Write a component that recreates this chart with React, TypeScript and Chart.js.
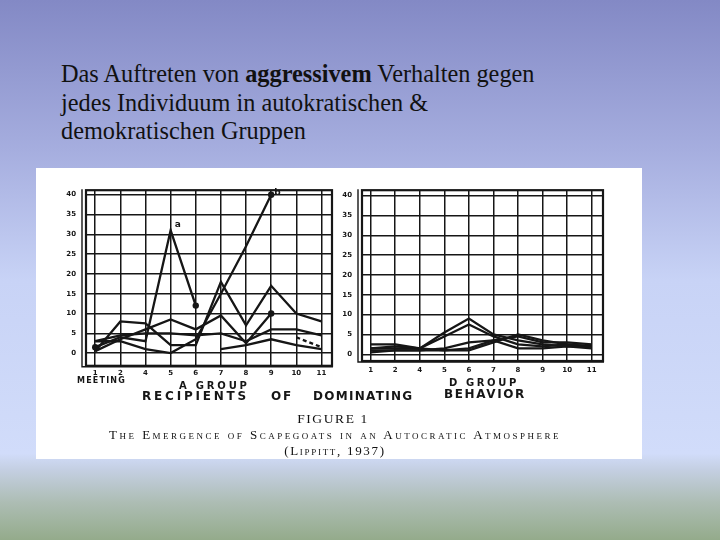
import React, { useEffect, useRef } from "react";
import { Chart, registerables } from "chart.js";

Chart.register(...registerables);

// ---------- data ----------
const meetings = ["1", "2", "4", "5", "6", "7", "8", "9", "10", "11"];
const yTicks = [0, 5, 10, 15, 20, 25, 30, 35, 40];

// A group (autocratic)
const aSeriesA = [1.5, 4, 3, 31, 12, null, null, null, null, null];
const aSeriesB = [0.5, 8, 7.5, 2, 2, 18, 7, 17, 10, 8];
const aSeriesC = [3, 3, 1, 0, 3.5, 15, 27, 40, null, null];
const aSeriesD = [0.5, 3.5, 6, 8.5, 6, 9.5, 2.5, 10, null, null];
const aSeriesE = [3, 4.5, 5, 5, 4.5, 5, 3, null, null, null];
const aSeriesF = [null, null, null, null, null, 1, 2, 3.5, 2, 1];
const aSeriesG = [null, null, null, null, null, null, 3, 6, 6, 4.5];
const aSeriesH = [null, null, null, null, null, null, null, null, 4, 1.5];

// D group (democratic)
const dSeriesA = [2.5, 2.5, 1.5, 5.5, 9, 5, 3.5, 2.5, 2, 2];
const dSeriesB = [1.5, 2, 1.5, 4.5, 7.5, 4.5, 2.5, 2, 2.5, 2];
const dSeriesC = [1, 1, 1, 1.5, 3, 3.5, 1.5, 1.5, 2, 1.5];
const dSeriesD = [0.5, 1, 1, 1, 1, 3, 5, 3.5, 2.5, 2];
const dSeriesE = [1.5, 1.5, 1.5, 1, 1.5, 3.5, 4.5, 3, 3, 2.5];

const INK = "#161616";
const tickFont = { family: "DejaVu Sans", size: 7, weight: "bold" as const };

function toPoints(vals: (number | null)[]) {
  return vals.map((v, i) => ({ x: i, y: v }));
}

function ds(vals: (number | null)[], dots: number[] = [], dashed = false) {
  return {
    data: toPoints(vals),
    borderColor: INK,
    backgroundColor: INK,
    borderWidth: 2.3,
    borderDash: dashed ? [4, 3] : [],
    pointRadius: (ctx: any) => (dots.includes(ctx.dataIndex) ? 3.2 : 0),
    pointBorderWidth: 0,
    spanGaps: false,
    tension: 0,
  };
}

const framePlugin = {
  id: "frame",
  afterDraw(chart: any) {
    const { ctx, chartArea } = chart;
    const { left, top, right, bottom } = chartArea;
    ctx.save();
    ctx.strokeStyle = INK;
    ctx.lineWidth = 2.2;
    ctx.strokeRect(left, top, right - left, bottom - top);
    ctx.lineWidth = 1.4;
    ctx.beginPath();
    ctx.moveTo(left - 4, top - 1);
    ctx.lineTo(left - 4, bottom + 1);
    ctx.lineTo(right + 1, bottom + 1);
    ctx.stroke();
    ctx.restore();
  },
};

const notePlugin = {
  id: "notes",
  afterDatasetsDraw(chart: any, _args: any, opts: any) {
    const notes = (opts && opts.items) || [];
    const { ctx, scales } = chart;
    ctx.save();
    ctx.fillStyle = INK;
    ctx.font = "bold 9px 'DejaVu Sans'";
    notes.forEach((n: any) => {
      const px = scales.x.getPixelForValue(n.x);
      const py = scales.y.getPixelForValue(n.y);
      ctx.fillText(n.text, px + n.dx, py + n.dy);
    });
    ctx.restore();
  },
};

function makeOptions(cfg: {
  xMin: number;
  xMax: number;
  yMin: number;
  yMax: number;
  yWidth: number;
  xHeight: number;
  pad: { top: number; right: number };
  notes: any[];
  xPad: number;
}) {
  return {
    responsive: false,
    animation: false as const,
    devicePixelRatio: 1,
    layout: { padding: { top: cfg.pad.top, right: cfg.pad.right, left: 0, bottom: 0 } },
    plugins: {
      legend: { display: false },
      tooltip: { enabled: false },
      notes: { items: cfg.notes },
    },
    scales: {
      x: {
        type: "linear" as const,
        min: cfg.xMin,
        max: cfg.xMax,
        afterBuildTicks: (s: any) => {
          s.ticks = meetings.map((_, i) => ({ value: i }));
        },
        afterFit: (s: any) => {
          s.height = cfg.xHeight;
        },
        ticks: {
          autoSkip: false,
          maxRotation: 0,
          color: INK,
          font: tickFont,
          padding: cfg.xPad,
          callback: (v: any) => meetings[v as number] ?? "",
        },
        grid: { color: INK, lineWidth: 1.5, drawTicks: false },
        border: { display: false },
      },
      y: {
        type: "linear" as const,
        min: cfg.yMin,
        max: cfg.yMax,
        afterBuildTicks: (s: any) => {
          s.ticks = yTicks.map((v) => ({ value: v }));
        },
        afterFit: (s: any) => {
          s.width = cfg.yWidth;
        },
        ticks: {
          color: INK,
          font: tickFont,
          padding: 10,
          callback: (v: any) => String(v),
        },
        grid: { color: INK, lineWidth: 1.5, drawTicks: false },
        border: { display: false },
      },
    },
  };
}

function LineChart(props: {
  width: number;
  height: number;
  datasets: any[];
  options: any;
  style: React.CSSProperties;
}) {
  const ref = useRef<HTMLCanvasElement | null>(null);
  useEffect(() => {
    if (!ref.current) return;
    const chart = new Chart(ref.current, {
      type: "line",
      data: { datasets: props.datasets },
      options: props.options,
      plugins: [framePlugin, notePlugin],
    });
    return () => chart.destroy();
  }, []);
  return (
    <canvas
      ref={ref}
      width={props.width}
      height={props.height}
      style={{ position: "absolute", width: props.width, height: props.height, ...props.style }}
    />
  );
}

const abs = (o: React.CSSProperties): React.CSSProperties => ({ position: "absolute", whiteSpace: "nowrap", ...o });

export default function App() {
  const aDatasets = [
    ds(aSeriesA, [0, 4]),
    ds(aSeriesB),
    ds(aSeriesC, [7]),
    ds(aSeriesD, [7]),
    ds(aSeriesE),
    ds(aSeriesF),
    ds(aSeriesG),
    ds(aSeriesH, [], true),
  ];
  const dDatasets = [ds(dSeriesA), ds(dSeriesB), ds(dSeriesC), ds(dSeriesD), ds(dSeriesE)];

  const aOpts = makeOptions({
    xMin: -0.367,
    xMax: 9.42,
    yMin: -3.2,
    yMax: 41.13,
    yWidth: 46,
    xHeight: 12,
    pad: { top: 8, right: 2 },
    xPad: 3,
    notes: [
      { x: 3, y: 31, text: "a", dx: 4, dy: -3 },
      { x: 7, y: 40, text: "b", dx: 3, dy: 0 },
    ],
  });
  const dOpts = makeOptions({
    xMin: -0.354,
    xMax: 9.46,
    yMin: -1.69,
    yMax: 41.38,
    yWidth: 24,
    xHeight: 19,
    pad: { top: 7, right: 3 },
    xPad: 5,
    notes: [],
  });

  const capFont = "'DejaVu Sans', sans-serif";
  return (
    <div
      style={{
        position: "fixed",
        left: 0,
        top: 0,
        width: 720,
        height: 540,
        overflow: "hidden",
        background:
          "linear-gradient(to bottom, #8389c5 0%, #a6aedf 28%, #c8d3f6 52%, #d1dcfa 84%, #c4cfe2 87%, #adbdb4 93%, #94ab8b 100%)",
        fontFamily: "'Liberation Serif', serif",
      }}
    >
      <div
        style={abs({
          left: 61,
          top: 60,
          fontSize: 24.3,
          lineHeight: "28.5px",
          color: "#111",
          fontFamily: "'Liberation Serif', serif",
        })}
      >
        Das Auftreten von <b>aggressivem</b> Verhalten gegen
        <br />
        jedes Individuum in autokratischen &amp;
        <br />
        demokratischen Gruppen
      </div>

      <div style={abs({ left: 36, top: 168, width: 606, height: 291, background: "#ffffff" })} />

      <LineChart width={296} height={204} datasets={aDatasets} options={aOpts} style={{ left: 40, top: 176 }} />
      <LineChart width={268} height={204} datasets={dDatasets} options={dOpts} style={{ left: 338, top: 176 }} />

      <div style={abs({ left: 77, top: 376, fontSize: 8, fontWeight: "bold", fontFamily: capFont, letterSpacing: 1.2, color: INK })}>
        MEETING
      </div>
      <div style={abs({ left: 179, top: 380, fontSize: 10, fontWeight: "bold", fontFamily: capFont, letterSpacing: 2.8, color: INK })}>
        A GROUP
      </div>
      <div style={abs({ left: 449, top: 377, fontSize: 10, fontWeight: "bold", fontFamily: capFont, letterSpacing: 2.6, color: INK })}>
        D GROUP
      </div>
      <div style={abs({ left: 142, top: 389, fontSize: 12, fontWeight: "bold", fontFamily: capFont, letterSpacing: 2.8, color: INK })}>
        RECIPIENTS
      </div>
      <div style={abs({ left: 271, top: 389, fontSize: 12, fontWeight: "bold", fontFamily: capFont, letterSpacing: 1.8, color: INK })}>
        OF
      </div>
      <div style={abs({ left: 313, top: 389, fontSize: 12, fontWeight: "bold", fontFamily: capFont, letterSpacing: 1.3, color: INK })}>
        DOMINATING
      </div>
      <div style={abs({ left: 444, top: 387, fontSize: 12, fontWeight: "bold", fontFamily: capFont, letterSpacing: 1.6, color: INK })}>
        BEHAVIOR
      </div>

      <div style={abs({ left: 30, width: 606, top: 411, textAlign: "center", fontSize: 13.5, letterSpacing: 1.6, color: "#111" })}>
        FIGURE 1
      </div>
      <div
        style={abs({
          left: 32,
          width: 606,
          top: 427,
          textAlign: "center",
          fontSize: 13,
          fontVariant: "small-caps",
          letterSpacing: 2.5,
          color: "#111",
        })}
      >
        The Emergence of Scapegoats in an Autocratic Atmosphere
      </div>
      <div
        style={abs({
          left: 32,
          width: 606,
          top: 443,
          textAlign: "center",
          fontSize: 13,
          fontVariant: "small-caps",
          letterSpacing: 1.7,
          color: "#111",
        })}
      >
        (Lippitt, 1937)
      </div>
    </div>
  );
}
